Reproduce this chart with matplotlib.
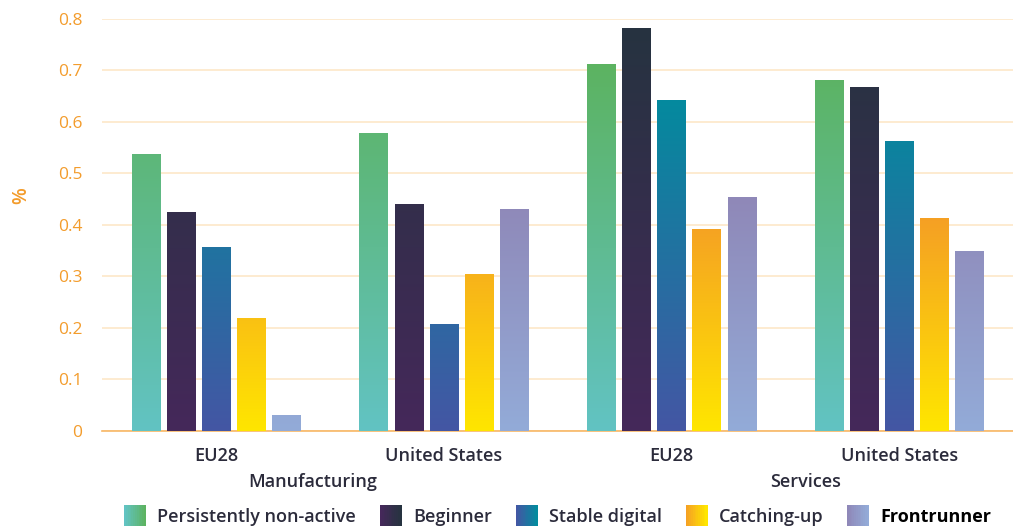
import numpy as np
import matplotlib
matplotlib.use("Agg")
import matplotlib.pyplot as plt
from matplotlib.colors import LinearSegmentedColormap
from matplotlib.patches import Rectangle
from matplotlib.legend_handler import HandlerBase

groups = ["EU28", "United States", "EU28", "United States"]
sectors = ["Manufacturing", "Services"]
series = ["Persistently non-active", "Beginner", "Stable digital", "Catching-up", "Frontrunner"]

persistently = [0.538, 0.578, 0.712, 0.682]
beginner = [0.425, 0.440, 0.783, 0.667]
stable = [0.357, 0.207, 0.643, 0.563]
catching = [0.219, 0.304, 0.392, 0.413]
frontrunner = [0.030, 0.431, 0.454, 0.349]
values = [persistently, beginner, stable, catching, frontrunner]

# bottom colour -> top colour for each series
grads = [("#62c3c3", "#5cb361"),
         ("#45285a", "#263340"),
         ("#4456a4", "#048a9e"),
         ("#ffe600", "#f5a024"),
         ("#93abd8", "#8f88b8")]
# legend swatches run left -> right
swatches = [("#62c3c3", "#5cb361"),
            ("#45285a", "#263340"),
            ("#4456a4", "#048a9e"),
            ("#f5a024", "#ffe600"),
            ("#8f88b8", "#93abd8")]

ORANGE = "#f39c2c"
DARK = "#2b2b3b"
plt.rcParams["font.family"] = ["Open Sans", "DejaVu Sans"]


class GradientHandler(HandlerBase):
    def __init__(self, c0, c1, n=12):
        super().__init__()
        self.cmap = LinearSegmentedColormap.from_list("g", [c0, c1])
        self.n = n

    def create_artists(self, legend, orig_handle, xdescent, ydescent,
                       width, height, fontsize, trans):
        side = 15.5
        x0 = -xdescent + (width - side) / 2
        y0 = -ydescent + (height - side) / 2
        arts = []
        for i in range(self.n):
            r = Rectangle((x0 + side * i / self.n, y0), side / self.n + 0.3, side,
                          facecolor=self.cmap(i / (self.n - 1)), edgecolor="none",
                          transform=trans)
            arts.append(r)
        return arts


fig = plt.figure(figsize=(10.13, 5.26), dpi=100)
ax = fig.add_axes([0.1007, 0.181, 0.8993, 0.783])

width = 0.123
step = 0.154
x = np.arange(len(groups))
handles = []
for k, (vals, (c0, c1)) in enumerate(zip(values, grads)):
    cmap = LinearSegmentedColormap.from_list(series[k], [c0, c1])
    vmax = max(vals)
    grad = np.linspace(0, 1, 256).reshape(-1, 1)
    bars = ax.bar(x + (k - 2) * step, vals, width, color="none",
                  edgecolor="none", zorder=3)
    for b in bars:
        im = ax.imshow(grad, cmap=cmap, origin="lower", aspect="auto",
                       extent=[b.get_x(), b.get_x() + b.get_width(), 0, vmax],
                       zorder=3)
        im.set_clip_path(b)
    handles.append(bars)

ax.set_xlim(-0.5, 3.5)
ax.set_ylim(0, 0.8)
ax.set_yticks(np.arange(0, 0.81, 0.1))
ax.set_yticklabels(["0"] + [f"{v:.1f}" for v in np.arange(0.1, 0.81, 0.1)])
ax.grid(axis="y", color="#fde7c8", linewidth=1.2, zorder=0)
ax.set_axisbelow(True)
for s in ["top", "right", "left"]:
    ax.spines[s].set_visible(False)
ax.spines["bottom"].set_color("#f7b766")
ax.spines["bottom"].set_linewidth(1.2)
ax.tick_params(axis="y", length=0, pad=14, labelsize=12.5, labelcolor=ORANGE)
ax.tick_params(axis="x", length=0, pad=12, labelsize=13, labelcolor=DARK)
ax.set_xticks(x)
ax.set_xticklabels(groups, fontweight="semibold")
ax.set_ylabel("%", color=ORANGE, fontsize=14, fontweight="semibold")
ax.yaxis.set_label_coords(-0.078, 0.57)

for xc, name in zip([0.425, 2.59], sectors):
    ax.text(xc, -0.1, name, ha="center", va="center", fontsize=13,
            fontweight="semibold", color=DARK, clip_on=False)

hmap = {h: GradientHandler(c0, c1) for h, (c0, c1) in zip(handles, swatches)}
leg = fig.legend(handles, series, handler_map=hmap, loc="center",
                 bbox_to_anchor=(0.552, 0.017), ncol=5, frameon=False,
                 prop={"size": 13, "weight": "semibold"}, handlelength=0.85,
                 handletextpad=0.8, columnspacing=1.5, borderpad=0)
for i, t in enumerate(leg.get_texts()):
    t.set_color("black" if i == 4 else DARK)
    if i == 4:
        t.set_fontweight("bold")

fig.savefig("out.png", dpi=100)
